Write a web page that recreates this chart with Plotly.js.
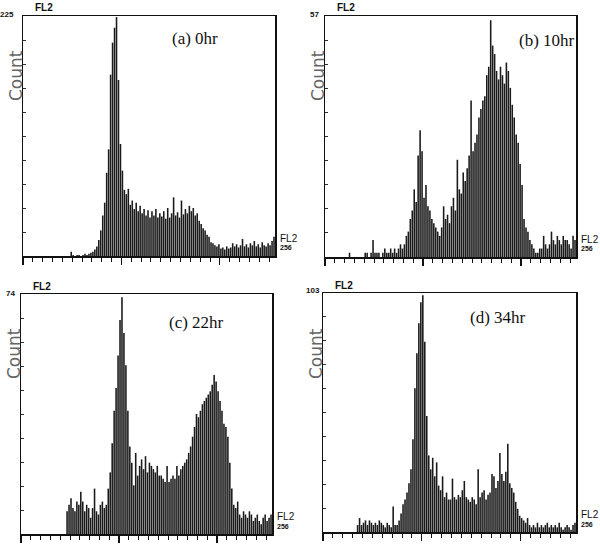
<!DOCTYPE html>
<html>
<head>
<meta charset="utf-8">
<script src="https://cdn.plot.ly/plotly-3.0.1.min.js"></script>
<style>html,body{margin:0;padding:0;background:#fff;}#chart{width:600px;height:546px;}</style>
</head>
<body>
<div id="chart"></div>
<script>
// Channel bins: each value covers two FL2 channels (0-1, 2-3, ... 254-255)
const panelTitles = ["(a) 0hr", "(b) 10hr", "(c) 22hr", "(d) 34hr"];
const yMaxLabels = ["225", "57", "74", "103"];
const yMax = [225, 57, 74, 103];
const xMax = 256;

const counts0hr = [
  0,0,0,0,0,0,0,0,0,0, 0,0,0,0,0,0,0,0,0,0, 0,0,0,0,4,1,0,1,1,0,
  1,2,1,2,3,4,6,9,15,24, 38,50,78,100,170,200,214,224,165,105,
  80,62,58,63,48,52,44,50,42,47, 40,44,38,43,36,42,38,44,36,40,
  37,42,35,45,36,40,55,38,41,36, 52,39,44,40,47,42,45,38,40,33,
  30,26,24,20,18,13,12,10,9,11, 7,8,6,9,7,8,12,9,11,8,
  10,16,9,11,8,12,10,14,9,11, 8,13,10,9,12,10,14,18
];
const counts10hr = [
  0,0,0,0,0,0,0,0,0,0, 0,0,1,0,0,0,0,0,0,0, 1,1,0,1,4,1,1,1,0,1,
  2,1,1,2,1,2,1,2,3,2, 3,5,6,9,11,16,13,24,30,25,
  14,17,12,11,9,8,7,6,5,7, 12,9,10,8,12,14,11,23,16,15,
  20,18,21,24,37,25,27,29,33,35, 37,38,43,45,56,50,48,44,42,45,
  43,41,46,44,40,36,33,29,27,22, 17,9,7,6,4,3,2,1,1,2,
  2,5,3,2,3,6,4,3,5,4, 3,5,4,4,3,2,5,4
];
const counts22hr = [
  0,0,0,0,0,0,0,0,0,0, 0,0,0,0,0,0,0,0,0,0, 0,0,0,7,9,11,8,7,10,9,
  13,10,7,9,8,5,8,14,7,6, 9,10,8,9,14,19,28,38,45,55,
  66,73,62,52,38,27,22,15,25,18, 21,23,20,24,19,22,21,20,19,21,
  18,18,17,16,21,16,17,18,17,21, 18,20,21,22,23,25,27,30,33,37,
  36,38,40,41,42,43,44,46,49,47, 44,41,38,34,33,30,22,14,9,8,
  10,6,5,7,6,5,7,6,4,5, 6,4,3,5,6,4,5,6
];
const counts34hr = [
  0,0,0,0,0,0,0,0,0,0, 0,0,0,0,0,0,0,3,6,3, 4,5,3,5,4,3,4,3,5,4,
  3,2,4,3,2,11,3,3,5,8, 12,14,17,21,27,40,62,77,90,99,
  102,82,50,33,27,32,24,30,20,18, 24,15,17,14,14,23,15,14,16,15,
  18,22,15,14,13,15,14,12,27,15, 17,18,14,16,17,25,24,19,22,34,
  25,22,26,38,21,19,17,13,10,7, 6,5,4,6,3,2,3,2,4,2,
  3,2,3,4,2,3,2,3,2,4, 2,1,2,3,2,1,3,4
];

const allCounts = [counts0hr, counts10hr, counts22hr, counts34hr];
const channels = counts0hr.map((_, i) => 2 * i + 1);

// pixel boxes of the four plot frames [left, right, top, bottom]
const W = 600, H = 546;
const boxes = [
  [23, 275, 16, 256],
  [325, 576, 16, 257],
  [21, 272, 294, 534],
  [323, 576, 293, 532]
];
// right edge / vertical centre of the max-count labels
const maxLabelPos = [[16, 14], [321, 14], [17, 293], [322, 290]];
const px = x => x / W;
const py = y => 1 - y / H;

const data = [];
const layout = {
  width: W, height: H,
  margin: {l: 0, r: 0, t: 0, b: 0},
  paper_bgcolor: "#ffffff",
  plot_bgcolor: "#ffffff",
  showlegend: false,
  bargap: 0.2,
  annotations: []
};

for (let p = 0; p < 4; p++) {
  const [l, r, t, b] = boxes[p];
  const sfx = p === 0 ? "" : String(p + 1);
  data.push({
    type: "bar",
    x: channels,
    y: allCounts[p],
    xaxis: "x" + sfx,
    yaxis: "y" + sfx,
    marker: {color: "#1a1a1a", line: {width: 0}},
    hoverinfo: "x+y"
  });
  const yt = [];
  for (let k = 1; k < 10; k++) yt.push(yMax[p] * k / 10);
  layout["xaxis" + sfx] = {
    domain: [px(l), px(r)],
    anchor: "y" + sfx,
    range: [0, xMax],
    showgrid: false, zeroline: false,
    showline: true, linecolor: "#111", linewidth: 1.5, mirror: true,
    ticks: "outside", tickvals: [0, 100, 200], ticklen: 7, tickwidth: 1.2, tickcolor: "#111",
    minor: {ticks: "outside", dtick: 10, tick0: 0, ticklen: 4, tickwidth: 1, tickcolor: "#111"},
    showticklabels: false, fixedrange: true
  };
  layout["yaxis" + sfx] = {
    domain: [py(b), py(t)],
    anchor: "x" + sfx,
    range: [0, yMax[p]],
    showgrid: false, zeroline: false,
    showline: true, linecolor: "#111", linewidth: 1.5, mirror: true,
    ticks: "inside", tickvals: yt, ticklen: 3, tickwidth: 1, tickcolor: "#333",
    showticklabels: false, fixedrange: true
  };
  // max count label at top-left
  layout.annotations.push({
    xref: "paper", yref: "paper", x: px(maxLabelPos[p][0]), y: py(maxLabelPos[p][1]),
    xanchor: "right", yanchor: "middle",
    text: "<b>" + yMaxLabels[p] + "</b>", showarrow: false,
    font: {family: "Liberation Sans", size: 8, color: "#111"}
  });
  // FL2 above frame
  layout.annotations.push({
    xref: "paper", yref: "paper", x: px(l + 10), y: py(t - 8), xanchor: "left", yanchor: "middle",
    text: "<b>FL2</b>", showarrow: false,
    font: {family: "Liberation Sans", size: 10, color: "#111"}
  });
  // Count label
  layout.annotations.push({
    xref: "paper", yref: "paper", x: px(l - 7), y: py(t + 60), xanchor: "center", yanchor: "middle",
    text: "Count", textangle: -90, showarrow: false,
    font: {family: "DejaVu Sans", size: 17, color: "#666"}
  });
  // FL2 / 256 at right end of axis
  layout.annotations.push({
    xref: "paper", yref: "paper", x: px(r + 3), y: py(b - 18), xanchor: "left", yanchor: "middle",
    text: "FL2", showarrow: false,
    font: {family: "Liberation Sans", size: 10, color: "#111"}
  });
  layout.annotations.push({
    xref: "paper", yref: "paper", x: px(r + 3), y: py(b - 8), xanchor: "left", yanchor: "middle",
    text: "<b>256</b>", showarrow: false,
    font: {family: "Liberation Sans", size: 7, color: "#111"}
  });
}
// panel titles
const titlePos = [[195, 39], [547, 41], [196, 322], [498, 317]];
for (let p = 0; p < 4; p++) {
  layout.annotations.push({
    xref: "paper", yref: "paper", x: px(titlePos[p][0]), y: py(titlePos[p][1]),
    xanchor: "center", yanchor: "middle", text: panelTitles[p], showarrow: false,
    font: {family: "Liberation Serif", size: 17, color: "#111"}
  });
}

Plotly.newPlot("chart", data, layout, {staticPlot: true, displayModeBar: false});
</script>
</body>
</html>
